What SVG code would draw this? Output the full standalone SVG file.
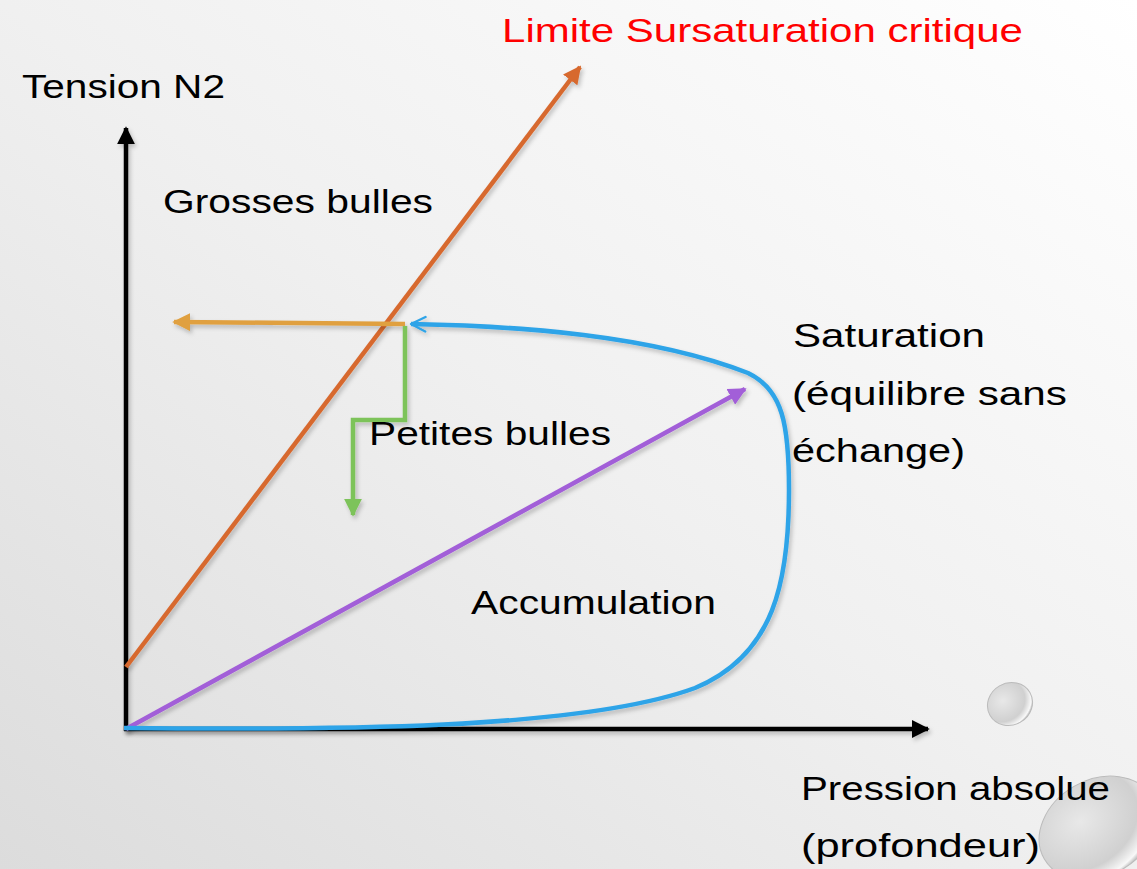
<svg xmlns="http://www.w3.org/2000/svg" width="1137" height="869" viewBox="0 0 1137 869">
<defs>
<linearGradient id="bg" x1="1" y1="0" x2="0" y2="1">
<stop offset="0" stop-color="#ffffff"/>
<stop offset="0.5" stop-color="#f0f0f0"/>
<stop offset="1" stop-color="#dcdcdc"/>
</linearGradient>
<radialGradient id="drop" cx="0.4" cy="0.35" r="0.7">
<stop offset="0" stop-color="#e8e8e8"/>
<stop offset="0.7" stop-color="#d0d0d0"/>
<stop offset="0.9" stop-color="#f8f8f8"/>
<stop offset="1" stop-color="#9a9a9a"/>
</radialGradient>
<filter id="sh" filterUnits="userSpaceOnUse" x="0" y="0" width="1137" height="869">
<feDropShadow dx="2" dy="3" stdDeviation="2" flood-color="#000" flood-opacity="0.22"/>
</filter>
<marker id="aK" viewBox="0 0 10 10" refX="9" refY="5" markerWidth="4" markerHeight="4" orient="auto" markerUnits="strokeWidth"><path d="M0,0 L10,5 L0,10 z" fill="#000"/></marker>
<marker id="aO" viewBox="0 0 10 10" refX="9" refY="5" markerWidth="4" markerHeight="4" orient="auto" markerUnits="strokeWidth"><path d="M0,0 L10,5 L0,10 z" fill="#D7692F"/></marker>
<marker id="aY" viewBox="0 0 10 10" refX="9" refY="5" markerWidth="4" markerHeight="4" orient="auto" markerUnits="strokeWidth"><path d="M0,0 L10,5 L0,10 z" fill="#E0A040"/></marker>
<marker id="aG" viewBox="0 0 10 10" refX="9" refY="5" markerWidth="4" markerHeight="4" orient="auto" markerUnits="strokeWidth"><path d="M0,0 L10,5 L0,10 z" fill="#7DC35A"/></marker>
<marker id="aP" viewBox="0 0 10 10" refX="9" refY="5" markerWidth="4" markerHeight="4" orient="auto" markerUnits="strokeWidth"><path d="M0,0 L10,5 L0,10 z" fill="#A25ED8"/></marker>
<marker id="aB" viewBox="0 0 10 10" refX="9" refY="5" markerWidth="4" markerHeight="4" orient="auto" markerUnits="strokeWidth"><path d="M1,1 L9,5 L1,9" fill="none" stroke="#2EA4E8" stroke-width="1.3" stroke-linecap="round" stroke-linejoin="round"/></marker>
</defs>
<style>
.t{font-family:"Liberation Sans",Arial,sans-serif;font-size:34px;fill:#000}
.ln{fill:none;stroke-width:4.5;filter:url(#sh)}
</style>
<rect width="1137" height="869" fill="url(#bg)"/>
<g id="bubbles">
<ellipse cx="1010" cy="704" rx="23" ry="21" transform="rotate(-30 1010 704)" fill="url(#drop)" stroke="#bbb" stroke-width="1"/>
<ellipse cx="1098" cy="828" rx="62" ry="48" transform="rotate(-30 1098 828)" fill="url(#drop)" stroke="#bbb" stroke-width="1"/>
</g>
<g id="connectors">
<line class="ln" x1="126" y1="731" x2="126" y2="128" stroke="#000" marker-end="url(#aK)"/>
<line class="ln" x1="124" y1="729" x2="928" y2="729" stroke="#000" marker-end="url(#aK)"/>
<line class="ln" x1="126" y1="667" x2="580" y2="67" stroke="#D7692F" marker-end="url(#aO)"/>
<path class="ln" d="M126,729 L745,389" stroke="#A25ED8" marker-end="url(#aP)"/>
<path class="ln" d="M124,728 C330,730 580,730 695,688 C775,655 789,580 789,490 C789,425 783,390 748,373 C650,335 520,326 411,324" stroke="#2EA4E8" marker-end="url(#aB)"/>
<line class="ln" x1="405" y1="324" x2="174" y2="322" stroke="#E0A040" marker-end="url(#aY)"/>
<path class="ln" d="M405,326 L405,420 L353,420 L353,515" stroke="#7DC35A" marker-end="url(#aG)"/>
</g>
<g id="labels">
<text class="t" x="502" y="42" style="fill:#FF0000" textLength="521" lengthAdjust="spacingAndGlyphs">Limite Sursaturation critique</text>
<text class="t" x="22" y="98" textLength="203" lengthAdjust="spacingAndGlyphs">Tension N2</text>
<text class="t" x="163" y="213" textLength="270" lengthAdjust="spacingAndGlyphs">Grosses bulles</text>
<text class="t" x="793" y="347" textLength="192" lengthAdjust="spacingAndGlyphs">Saturation</text>
<text class="t" x="792" y="405" textLength="275" lengthAdjust="spacingAndGlyphs">(équilibre sans</text>
<text class="t" x="792" y="462" textLength="173" lengthAdjust="spacingAndGlyphs">échange)</text>
<text class="t" x="369" y="445" textLength="242" lengthAdjust="spacingAndGlyphs">Petites bulles</text>
<text class="t" x="471" y="614" textLength="245" lengthAdjust="spacingAndGlyphs">Accumulation</text>
<text class="t" x="801" y="800" textLength="309" lengthAdjust="spacingAndGlyphs">Pression absolue</text>
<text class="t" x="801" y="857" textLength="239" lengthAdjust="spacingAndGlyphs">(profondeur)</text>
</g>
</svg>
